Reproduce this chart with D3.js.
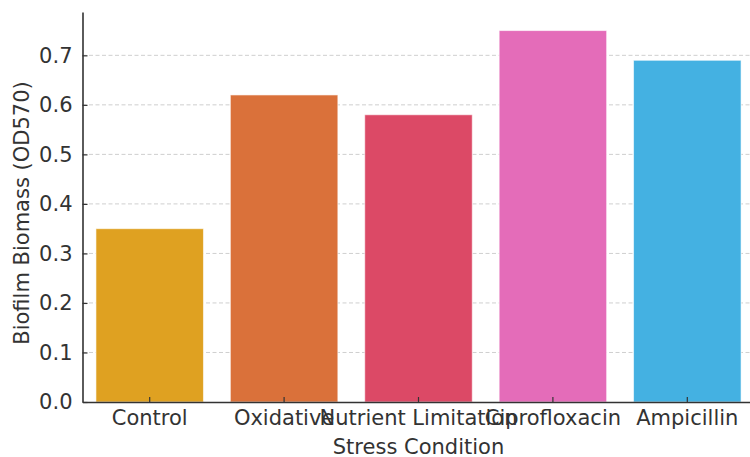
<!DOCTYPE html>
<html><head><meta charset="utf-8">
<script src="https://cdn.jsdelivr.net/npm/d3@7"></script>
<style>body{margin:0;background:#fff}svg{display:block}text{font-family:"DejaVu Sans",sans-serif;fill:#333}</style>
</head><body><svg id="c" width="750" height="457"></svg>
<script>
const categories = ["Control","Oxidative","Nutrient Limitation","Ciprofloxacin","Ampicillin"];
const values = [0.35,0.62,0.58,0.75,0.69];
const colors = ["#DFA121","#DA713A","#DC4966","#E46CB9","#44B1E2"];
const yTicks = [0,0.1,0.2,0.3,0.4,0.5,0.6,0.7];

const svg = d3.select("#c");
const m = {l:82.5, r:754.5, t:12, b:402};
const FS = "21px";
const x = d3.scaleBand().domain(categories).range([m.l, m.r]).paddingInner(0.2).paddingOuter(0.1);
const y = d3.scaleLinear().domain([0, 0.7875]).range([m.b, m.t]);

// grid
svg.append("g").selectAll("line").data(yTicks.slice(1)).join("line")
  .attr("x1", m.l).attr("x2", 750).attr("y1", d=>y(d)).attr("y2", d=>y(d))
  .attr("stroke","#cfcfcf").attr("stroke-width",1).attr("stroke-dasharray","4,2.5");

// bars
svg.append("g").selectAll("rect").data(values).join("rect")
  .attr("x",(d,i)=>x(categories[i])).attr("width",x.bandwidth())
  .attr("y",d=>y(d)).attr("height",d=>y(0)-y(d))
  .attr("fill",(d,i)=>colors[i]).attr("stroke","rgba(255,255,255,0.6)").attr("stroke-width",1);

// y axis
const ya = svg.append("g").attr("transform",`translate(${m.l},0)`)
  .call(d3.axisLeft(y).tickValues(yTicks).tickFormat(d3.format(".1f")).tickSizeInner(-5).tickSizeOuter(0).tickPadding(10));
ya.select(".domain").attr("stroke","#333").attr("stroke-width",1.6);
ya.selectAll(".tick line").attr("stroke","#333").attr("stroke-width",1.2);
ya.selectAll("text").style("font-size",FS).attr("fill","#333");

// x axis
const xa = svg.append("g").attr("transform",`translate(0,${m.b})`)
  .call(d3.axisBottom(x).tickSizeInner(-5).tickSizeOuter(0).tickPadding(8));
xa.select(".domain").attr("stroke","#333").attr("stroke-width",1.6);
xa.selectAll(".tick line").attr("stroke","#333").attr("stroke-width",1.2);
xa.selectAll("text").style("font-size",FS).attr("fill","#333");

svg.append("text").attr("x",(m.l+m.r)/2).attr("y",454).attr("text-anchor","middle")
  .style("font-size",FS).text("Stress Condition");
svg.append("text").attr("transform",`translate(29,${(m.t+m.b)/2+6}) rotate(-90)`).attr("text-anchor","middle")
  .style("font-size",FS).text("Biofilm Biomass (OD570)");
</script></body></html>
